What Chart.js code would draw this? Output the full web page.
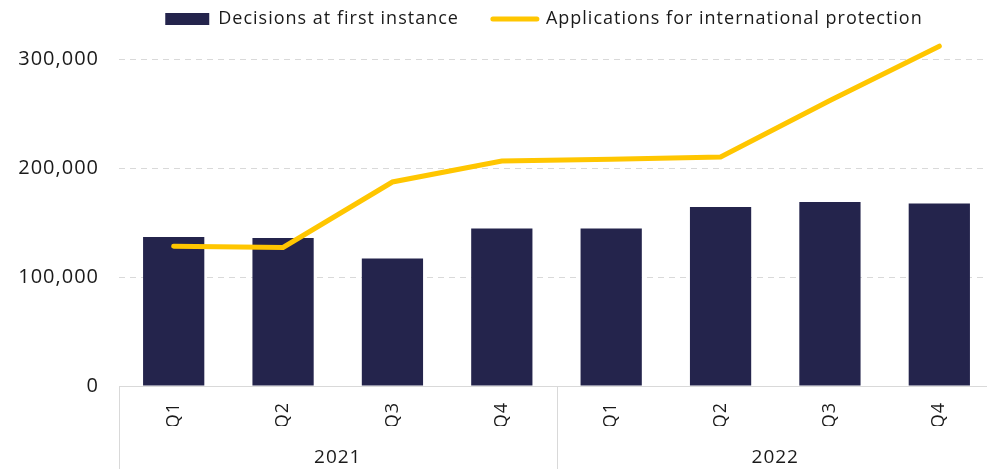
<!DOCTYPE html>
<html><head><meta charset="utf-8">
<script src="https://cdn.jsdelivr.net/npm/chart.js@4.4.1/dist/chart.umd.min.js"></script>
<style>
html,body{margin:0;padding:0;background:#fff;overflow:hidden;width:987px;height:469px}
#wrap{position:relative;width:1000px;height:469px}
</style>
</head><body><div id="wrap"><canvas id="c"></canvas></div>
<script>
const quarters = ['Q1','Q2','Q3','Q4','Q1','Q2','Q3','Q4'];
const years = ['2021','2022'];
const decisions = [137100,136200,117300,144800,144800,164600,169200,167800];
const applications = [128600,127400,187600,206900,208400,210600,262600,312500];
const yTicks = [0,100000,200000,300000];

const FONT = "'Open Sans', sans-serif";
const TXT = '#1a1a1a';
const GRID = '#d9d9d9';

const tweaks = {
  id: 'tweaks',
  beforeUpdate(chart) { chart.ctx.letterSpacing = '1px'; },
  beforeDraw(chart) { chart.ctx.letterSpacing = '1px'; },
  afterInit(chart) {
    const lg = chart.legend;
    const fit = lg.fit.bind(lg);
    lg.fit = function(){ fit(); this.height = 38; };
  },
  afterLayout(chart) {
    const lg = chart.legend;
    lg.left += 47; lg.right += 47;
    lg.top -= 24;
  },
  afterDraw(chart) {
    const x = chart.scales.x, ctx = chart.ctx;
    const per = quarters.length / years.length;
    ctx.save();
    ctx.strokeStyle = GRID; ctx.lineWidth = 1;
    for (let g = 0; g <= years.length; g++) {
      const px = Math.round(x.getPixelForValue(g * per - 0.5)) + 0.5;
      ctx.beginPath(); ctx.moveTo(px, x.top); ctx.lineTo(px, chart.height); ctx.stroke();
    }
    ctx.restore();
  }
};

new Chart(document.getElementById('c'), {
  data: {
    labels: quarters,
    datasets: [
      { type: 'bar', label: 'Decisions at first instance', data: decisions,
        backgroundColor: '#24244c', borderWidth: 0, order: 1,
        barPercentage: 0.56, categoryPercentage: 1 },
      { type: 'line', label: 'Applications for international protection', data: applications,
        borderColor: '#ffc600', backgroundColor: '#ffc600', borderWidth: 5,
        pointRadius: 0, tension: 0, borderCapStyle: 'round', borderJoinStyle: 'miter', order: 0 }
    ]
  },
  options: {
    responsive: true, maintainAspectRatio: false, animation: false, devicePixelRatio: 1,
    layout: { padding: { right: 6 } },
    plugins: {
      tooltip: { enabled: false },
      legend: {
        position: 'top',
        labels: {
          font: { family: FONT, size: 18 }, color: TXT,
          usePointStyle: true, pointStyleWidth: 44, boxHeight: 12, padding: 34,
          sort: (a, b) => a.datasetIndex - b.datasetIndex,
          generateLabels(chart) {
            const items = Chart.defaults.plugins.legend.labels.generateLabels(chart);
            items.forEach(it => {
              const ds = chart.data.datasets[it.datasetIndex];
              if (ds.type === 'line') { it.pointStyle = 'line'; it.strokeStyle = ds.borderColor; it.lineWidth = 5; it.lineCap = 'round'; }
              else { it.pointStyle = 'rect'; it.lineWidth = 0; }
            });
            return items;
          }
        }
      }
    },
    scales: {
      y: {
        min: 0, max: 320000,
        afterBuildTicks: s => { s.ticks = yTicks.map(v => ({ value: v })); },
        afterFit: s => { s.width = 119; },
        ticks: { padding: 20, font: { family: FONT, size: 20 }, color: TXT,
          callback: v => Number(v).toLocaleString('en-US') },
        grid: { color: GRID, lineWidth: 1, drawTicks: false },
        border: { display: false, dash: [6, 5] }
      },
      x: {
        offset: true,
        grid: { display: false, tickLength: 0, drawTicks: false },
        border: { display: true, color: GRID, width: 1 },
        afterFit: s => { s.height = 40; },
        ticks: { minRotation: 90, maxRotation: 90, autoSkip: false, padding: 16,
          font: { family: FONT, size: 18 }, color: TXT }
      },
      x2: {
        type: 'category', labels: years, position: 'bottom', offset: true,
        grid: { display: false, tickLength: 0, drawTicks: false }, border: { display: false },
        afterFit: s => { s.height = 43; },
        ticks: { padding: 20, font: { family: FONT, size: 19 }, color: TXT }
      }
    }
  },
  plugins: [tweaks]
});
</script>
</body></html>
